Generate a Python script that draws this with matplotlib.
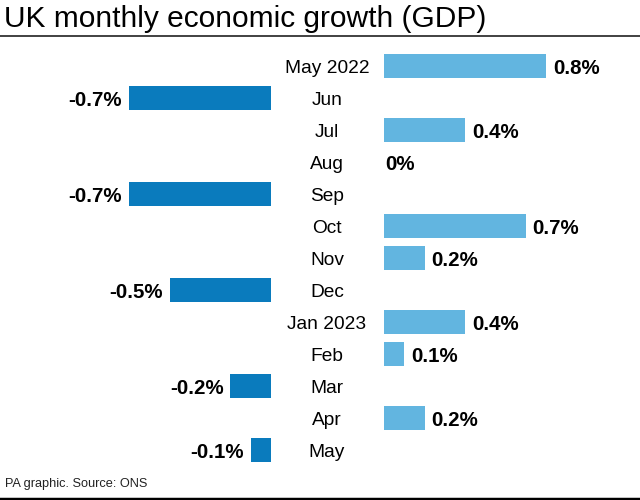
import numpy as np
import matplotlib.pyplot as plt

# -- data
months = ['May 2022', 'Jun', 'Jul', 'Aug', 'Sep', 'Oct', 'Nov', 'Dec',
          'Jan 2023', 'Feb', 'Mar', 'Apr', 'May']
growth = [0.8, -0.7, 0.4, 0.0, -0.7, 0.7, 0.2, -0.5, 0.4, 0.1, -0.2, 0.2, -0.1]

pos_color = '#62b5e0'
neg_color = '#0a7bbd'

plt.rcParams['font.family'] = ['Liberation Sans', 'DejaVu Sans']

W, H = 640, 500
fig = plt.figure(figsize=(6.4, 5.0), dpi=100)

# -- axes placed in pixel units of the canvas
def px_axes(x0, x1, y_top, y_bot):
    return fig.add_axes([x0 / W, 1 - y_bot / H, (x1 - x0) / W, (y_bot - y_top) / H])

y = np.arange(len(months))
vals = np.array(growth)

ax_neg = px_axes(129, 271, 50, 466)
ax_pos = px_axes(384, 546, 50, 466)
ax_neg.set_xlim(-0.7, 0)
ax_pos.set_xlim(0, 0.8)
for ax in (ax_neg, ax_pos):
    ax.set_ylim(len(months) - 0.5, -0.5)
    ax.axis('off')

neg = vals < 0
ax_neg.barh(y[neg], vals[neg], height=0.72, color=neg_color)
ax_pos.barh(y[~neg], vals[~neg], height=0.72, color=pos_color)

dy = -1.5  # nudge text down onto the bar centre

# -- value labels
for yi, v in zip(y, vals):
    txt = f'{v:g}%' if v != 0 else '0%'
    if v < 0:
        ax_neg.annotate(txt, (v, yi), xytext=(-5, dy), textcoords='offset points',
                        ha='right', va='center', fontsize=14.8, fontweight='bold')
    else:
        off = 5 if v > 0 else 1
        ax_pos.annotate(txt, (v, yi), xytext=(off, dy), textcoords='offset points',
                        ha='left', va='center', fontsize=14.8, fontweight='bold')

# -- month labels centered in the gap
for yi, m in zip(y, months):
    ax_pos.annotate(m, (0, yi), xytext=(-57 * 0.72, dy), textcoords='offset points',
                    ha='center', va='center', fontsize=13.8)

# -- title, rules and footer
fig.text(4 / W, 1 - 19 / H, 'UK monthly economic growth (GDP)', fontsize=21.5,
         ha='left', va='center')
fig.add_artist(plt.Line2D([0, 1], [1 - 36 / H, 1 - 36 / H], color='#333333', lw=1.3))
fig.add_artist(plt.Line2D([0, 1], [1 - 498.5 / H, 1 - 498.5 / H], color='black', lw=2.5))
fig.text(5 / W, 1 - 484 / H, 'PA graphic. Source: ONS', fontsize=9.2,
         ha='left', va='center', color='#222222')

fig.savefig('out.png', dpi=100)
